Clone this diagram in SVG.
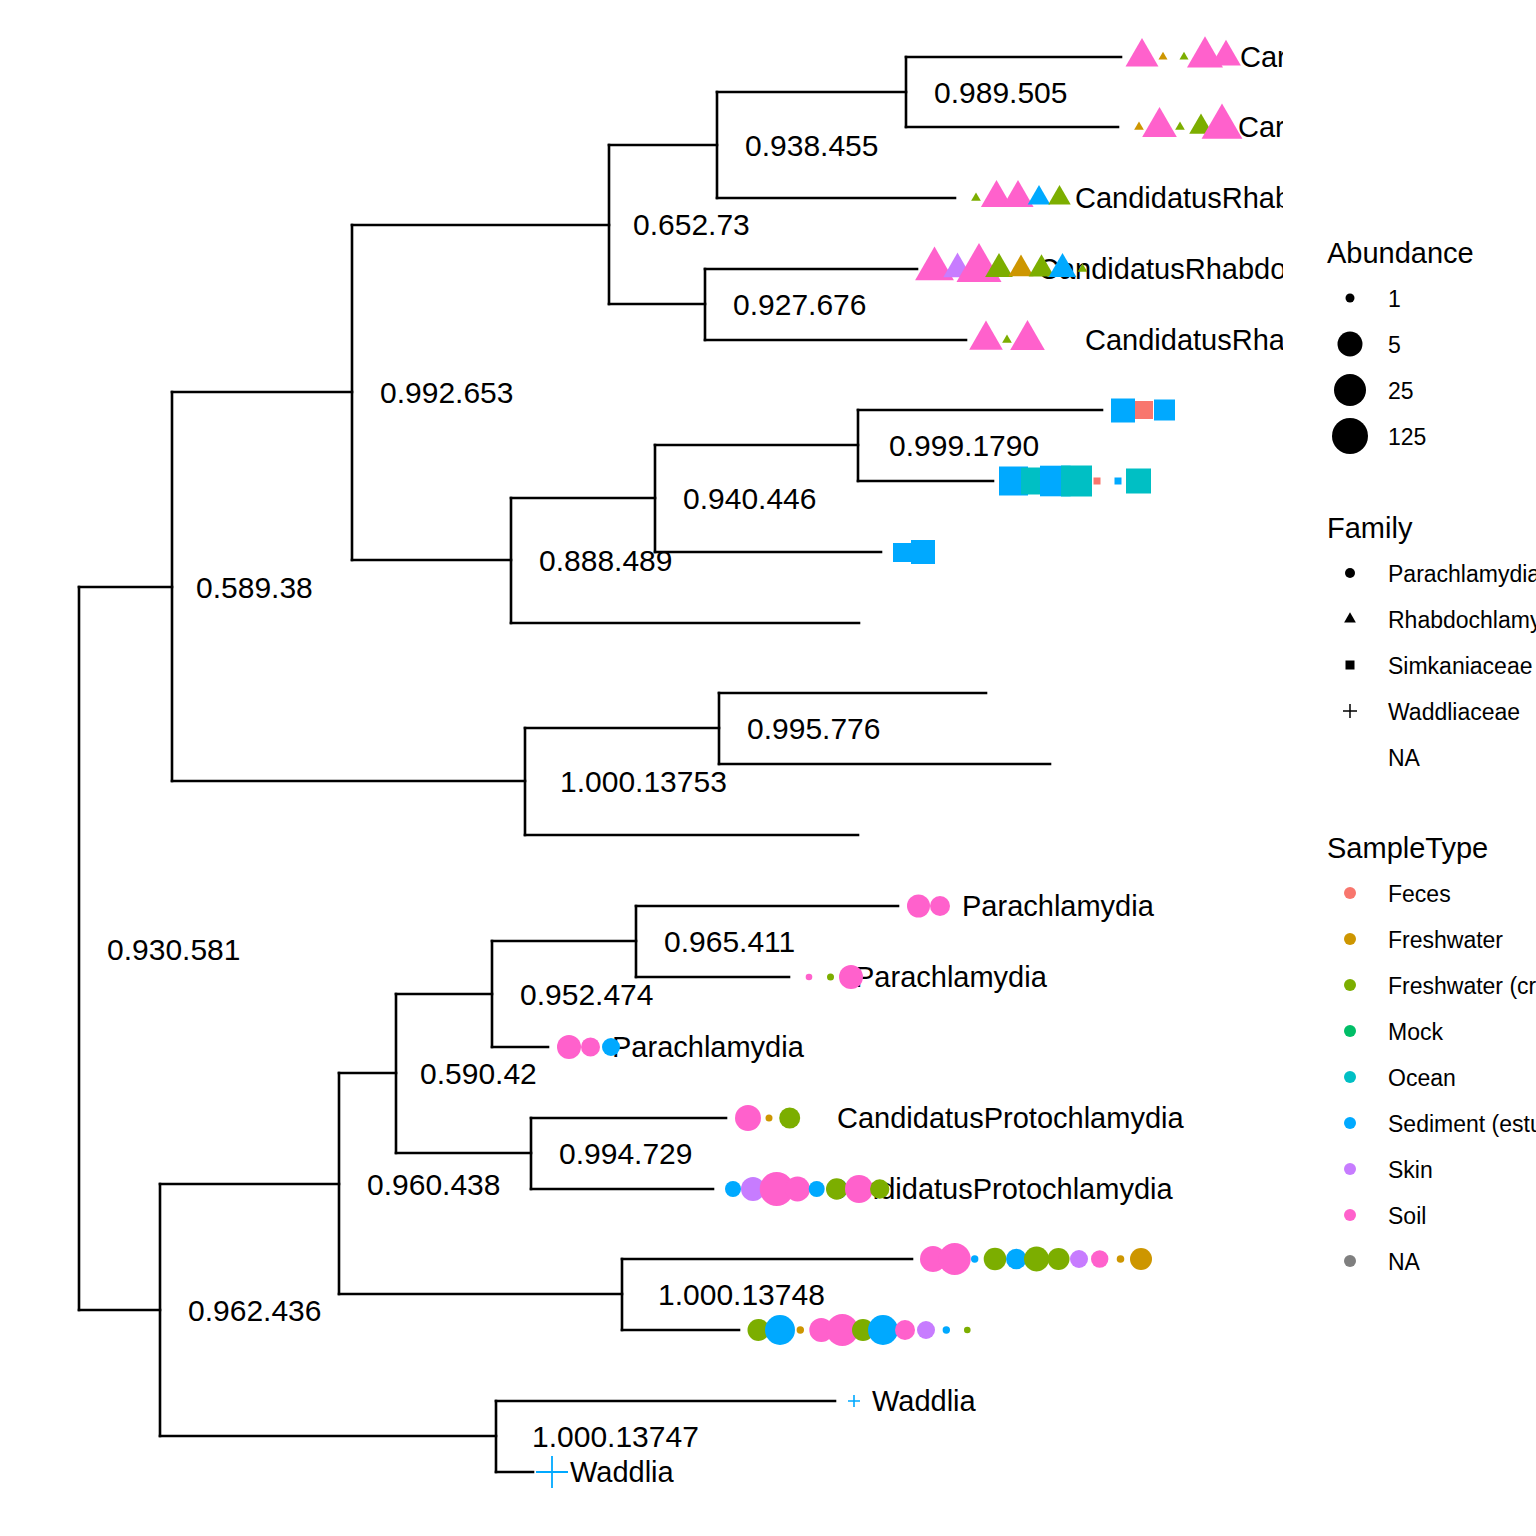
<svg xmlns="http://www.w3.org/2000/svg" xmlns:xlink="http://www.w3.org/1999/xlink" width="1536" height="1536" viewBox="0 0 1536 1536">
<style>
.e{fill:none;stroke:#000;stroke-width:2.6;stroke-linecap:square}
text{font-family:"Liberation Sans",Arial,Helvetica,sans-serif;fill:#000}
.nl{font-size:30px}
.tl{font-size:29px}
.lt{font-size:29px}
.ll{font-size:23px}
.pk{fill:#FF61CC}.or{fill:#CD9600}.gr{fill:#7CAE00}.bl{fill:#00A9FF}.te{fill:#00BFC4}.rd{fill:#F8766D}.pu{fill:#C77CFF}.mo{fill:#00BE67}.na{fill:#7F7F7F}
.pl{stroke:#00A9FF;fill:none}
</style>
<defs>
<path id="t" d="M0,-2 L1.732,1 L-1.732,1 Z"/>
<clipPath id="panel"><rect x="0" y="0" width="1283" height="1536"/></clipPath>
</defs>
<rect width="1536" height="1536" fill="#fff"/>
<g id="connectors">
<path class="e" d="M906,57V127M717,92V198M705,269V340M609,145V304M858,410V481M655,445V552M511,498V623M352,225V560M719,693V764M525,728V835M172,392V781M636,906V977M492,941V1047M531,1118V1189M396,994V1153M622,1259V1330M339,1073V1294M496,1401V1472M160,1184V1436M79,587V1310"/>
<path class="e" d="M717,92H906M609,145H717M609,304H705M352,225H609M655,445H858M511,498H655M352,560H511M172,392H352M525,728H719M172,781H525M79,587H172M492,941H636M396,994H492M396,1153H531M339,1073H396M339,1294H622M160,1184H339M160,1436H496M79,1310H160"/>
<path class="e" d="M906,57H1121M906,127H1118M717,198H955M705,269H917M705,340H966M858,410H1102M858,481H993M655,552H881M511,623H859M719,693H986M719,764H1050M525,835H858M636,906H898M636,977H789M492,1047H548M531,1118H726M531,1189H713M622,1259H912M622,1330H739M496,1401H835M496,1472H533"/>
</g>
<g id="internal-nodes">
<g id="n1"><text class="nl" x="934" y="103">0.989.505</text></g>
<g id="n2"><text class="nl" x="745" y="156">0.938.455</text></g>
<g id="n3"><text class="nl" x="633" y="235">0.652.73</text></g>
<g id="n4"><text class="nl" x="733" y="315">0.927.676</text></g>
<g id="n5"><text class="nl" x="380" y="403">0.992.653</text></g>
<g id="n6"><text class="nl" x="889" y="456">0.999.1790</text></g>
<g id="n7"><text class="nl" x="683" y="509">0.940.446</text></g>
<g id="n8"><text class="nl" x="539" y="571">0.888.489</text></g>
<g id="n9"><text class="nl" x="196" y="598">0.589.38</text></g>
<g id="n10"><text class="nl" x="747" y="739">0.995.776</text></g>
<g id="n11"><text class="nl" x="560" y="792">1.000.13753</text></g>
<g id="n12"><text class="nl" x="107" y="960">0.930.581</text></g>
<g id="n13"><text class="nl" x="664" y="952">0.965.411</text></g>
<g id="n14"><text class="nl" x="520" y="1005">0.952.474</text></g>
<g id="n15"><text class="nl" x="420" y="1084">0.590.42</text></g>
<g id="n16"><text class="nl" x="559" y="1164">0.994.729</text></g>
<g id="n17"><text class="nl" x="367" y="1195">0.960.438</text></g>
<g id="n18"><text class="nl" x="658" y="1305">1.000.13748</text></g>
<g id="n19"><text class="nl" x="188" y="1321">0.962.436</text></g>
<g id="n20"><text class="nl" x="532" y="1447">1.000.13747</text></g>
</g>
<g id="tips" clip-path="url(#panel)">
<g id="tip1">
<text class="tl" x="1240" y="67">Car</text>
<use xlink:href="#t" class="pk" transform="translate(1142,57) scale(9.5)"/>
<use xlink:href="#t" class="or" transform="translate(1163,57) scale(2.6)"/>
<use xlink:href="#t" class="gr" transform="translate(1184,57) scale(2.6)"/>
<use xlink:href="#t" class="pk" transform="translate(1205,57) scale(10.4)"/>
<use xlink:href="#t" class="pk" transform="translate(1226,57) scale(8.6)"/>
</g>
<g id="tip2">
<text class="tl" x="1238" y="137">Car</text>
<use xlink:href="#t" class="or" transform="translate(1139,127) scale(2.8)"/>
<use xlink:href="#t" class="pk" transform="translate(1159.5,127) scale(10)"/>
<use xlink:href="#t" class="gr" transform="translate(1180,127) scale(2.8)"/>
<use xlink:href="#t" class="gr" transform="translate(1201,127) scale(6.8)"/>
<use xlink:href="#t" class="pk" transform="translate(1222,127) scale(11.8)"/>
</g>
<g id="tip3">
<text class="tl" x="1075" y="208">CandidatusRhab</text>
<use xlink:href="#t" class="gr" transform="translate(976,198) scale(2.8)"/>
<use xlink:href="#t" class="pk" transform="translate(996.5,198) scale(9)"/>
<use xlink:href="#t" class="pk" transform="translate(1018,198) scale(9)"/>
<use xlink:href="#t" class="bl" transform="translate(1039,198) scale(6.5)"/>
<use xlink:href="#t" class="gr" transform="translate(1059.5,198) scale(6.5)"/>
</g>
<g id="tip4">
<text class="tl" x="1038" y="279">CandidatusRhabdo</text>
<use xlink:href="#t" class="pk" transform="translate(934.5,269) scale(11.2)"/>
<use xlink:href="#t" class="pu" transform="translate(957.5,269) scale(8.2)"/>
<use xlink:href="#t" class="pk" transform="translate(979,269) scale(13)"/>
<use xlink:href="#t" class="gr" transform="translate(999,269) scale(8)"/>
<use xlink:href="#t" class="or" transform="translate(1021,269) scale(7.2)"/>
<use xlink:href="#t" class="gr" transform="translate(1041.5,269) scale(7.4)"/>
<use xlink:href="#t" class="bl" transform="translate(1062.5,269) scale(8)"/>
<use xlink:href="#t" class="gr" transform="translate(1082.5,269) scale(2.8)"/>
</g>
<g id="tip5">
<text class="tl" x="1085" y="350">CandidatusRha</text>
<use xlink:href="#t" class="pk" transform="translate(986,340) scale(9.7)"/>
<use xlink:href="#t" class="gr" transform="translate(1007,340) scale(2.8)"/>
<use xlink:href="#t" class="pk" transform="translate(1027.5,340) scale(10)"/>
</g>
<g id="tip6">
<rect class="bl" x="1111" y="398.5" width="24" height="24"/>
<rect class="rd" x="1135" y="401" width="18" height="18"/>
<rect class="bl" x="1154" y="399.5" width="21" height="21"/>
</g>
<g id="tip7">
<rect class="bl" x="999" y="466.5" width="29" height="29"/>
<rect class="te" x="1021" y="467.5" width="27" height="27"/>
<rect class="bl" x="1040" y="465.7" width="30.6" height="30.6"/>
<rect class="te" x="1061" y="465.5" width="31" height="31"/>
<rect class="rd" x="1093.5" y="477.5" width="7" height="7"/>
<rect class="bl" x="1114.5" y="477.5" width="7" height="7"/>
<rect class="te" x="1126" y="468.5" width="25" height="25"/>
</g>
<g id="tip8">
<rect class="bl" x="893" y="543" width="19" height="19"/>
<rect class="bl" x="911" y="540" width="24" height="24"/>
</g>
<g id="tip13">
<text class="tl" x="962" y="916">Parachlamydia</text>
<circle class="pk" cx="918.5" cy="906" r="11.5"/>
<circle class="pk" cx="940" cy="906" r="10"/>
</g>
<g id="tip14">
<text class="tl" x="855" y="987">Parachlamydia</text>
<circle class="pk" cx="809" cy="977" r="3.3"/>
<circle class="gr" cx="830.5" cy="977" r="3.5"/>
<circle class="pk" cx="851" cy="977" r="12"/>
</g>
<g id="tip15">
<text class="tl" x="612" y="1057">Parachlamydia</text>
<circle class="pk" cx="569" cy="1047" r="12"/>
<circle class="pk" cx="590.5" cy="1047" r="9.5"/>
<circle class="bl" cx="611" cy="1047" r="9"/>
</g>
<g id="tip16">
<text class="tl" x="837" y="1128">CandidatusProtochlamydia</text>
<circle class="pk" cx="748" cy="1118" r="13"/>
<circle class="or" cx="769" cy="1118" r="3.5"/>
<circle class="gr" cx="789.7" cy="1118" r="10.5"/>
</g>
<g id="tip17">
<text class="tl" x="826" y="1199">CandidatusProtochlamydia</text>
<circle class="bl" cx="733" cy="1189" r="8"/>
<circle class="pu" cx="753" cy="1189" r="12"/>
<circle class="pk" cx="776.7" cy="1189" r="17"/>
<circle class="pk" cx="797.5" cy="1189" r="12.5"/>
<circle class="bl" cx="816.7" cy="1189" r="8"/>
<circle class="gr" cx="836.7" cy="1189" r="10.7"/>
<circle class="pk" cx="859" cy="1189" r="14"/>
<circle class="gr" cx="879.7" cy="1189" r="9.7"/>
</g>
<g id="tip18">
<circle class="pk" cx="933" cy="1259" r="13"/>
<circle class="pk" cx="954.7" cy="1259" r="16"/>
<circle class="bl" cx="974.7" cy="1259" r="3.7"/>
<circle class="gr" cx="995" cy="1259" r="11.3"/>
<circle class="bl" cx="1016.3" cy="1259" r="10.3"/>
<circle class="gr" cx="1036.5" cy="1259" r="12.5"/>
<circle class="gr" cx="1058.5" cy="1259" r="11"/>
<circle class="pu" cx="1079" cy="1259" r="9"/>
<circle class="pk" cx="1099.7" cy="1259" r="8.7"/>
<circle class="or" cx="1120.5" cy="1259" r="3.8"/>
<circle class="or" cx="1141" cy="1259" r="11"/>
</g>
<g id="tip19">
<circle class="gr" cx="758.5" cy="1330" r="11"/>
<circle class="bl" cx="780" cy="1330" r="15"/>
<circle class="or" cx="800.3" cy="1330" r="3.7"/>
<circle class="pk" cx="821.3" cy="1330" r="12"/>
<circle class="pk" cx="842.3" cy="1330" r="16"/>
<circle class="gr" cx="863" cy="1330" r="11"/>
<circle class="bl" cx="883" cy="1330" r="15"/>
<circle class="pk" cx="905" cy="1330" r="10"/>
<circle class="pu" cx="926" cy="1330" r="9"/>
<circle class="bl" cx="946.3" cy="1330" r="3.7"/>
<circle class="gr" cx="967.3" cy="1330" r="3.3"/>
</g>
<g id="tip20">
<text class="tl" x="872" y="1411">Waddlia</text>
<path class="pl" stroke-width="1.6" d="M848,1401H860M854,1395V1407"/>
</g>
<g id="tip21">
<text class="tl" x="570" y="1482">Waddlia</text>
<path class="pl" stroke-width="1.8" d="M536,1472H568M552,1456V1488"/>
</g>
</g>
<g id="legend-abundance">
<text class="lt" x="1327" y="263">Abundance</text>
<circle cx="1350" cy="298" r="4.5"/>
<circle cx="1350" cy="344" r="12.5"/>
<circle cx="1350" cy="390" r="16"/>
<circle cx="1350" cy="436" r="18"/>
<text class="ll" x="1388" y="306.5">1</text>
<text class="ll" x="1388" y="352.5">5</text>
<text class="ll" x="1388" y="398.5">25</text>
<text class="ll" x="1388" y="444.5">125</text>
</g>
<g id="legend-family">
<text class="lt" x="1327" y="538">Family</text>
<circle cx="1350" cy="573" r="5"/>
<use xlink:href="#t" transform="translate(1350,619) scale(3.4)"/>
<rect x="1345.5" y="660.5" width="9" height="9"/>
<path d="M1343,711H1357M1350,704V718" stroke="#000" stroke-width="1.5" fill="none"/>
<text class="ll" x="1388" y="581.5">Parachlamydia</text>
<text class="ll" x="1388" y="627.5">Rhabdochlamy</text>
<text class="ll" x="1388" y="673.5">Simkaniaceae</text>
<text class="ll" x="1388" y="719.5">Waddliaceae</text>
<text class="ll" x="1388" y="765.5">NA</text>
</g>
<g id="legend-sampletype">
<text class="lt" x="1327" y="858">SampleType</text>
<circle class="rd" cx="1350" cy="893" r="6"/>
<circle class="or" cx="1350" cy="939" r="6"/>
<circle class="gr" cx="1350" cy="985" r="6"/>
<circle class="mo" cx="1350" cy="1031" r="6"/>
<circle class="te" cx="1350" cy="1077" r="6"/>
<circle class="bl" cx="1350" cy="1123" r="6"/>
<circle class="pu" cx="1350" cy="1169" r="6"/>
<circle class="pk" cx="1350" cy="1215" r="6"/>
<circle class="na" cx="1350" cy="1261" r="6"/>
<text class="ll" x="1388" y="901.5">Feces</text>
<text class="ll" x="1388" y="947.5">Freshwater</text>
<text class="ll" x="1388" y="993.5">Freshwater (cr</text>
<text class="ll" x="1388" y="1039.5">Mock</text>
<text class="ll" x="1388" y="1085.5">Ocean</text>
<text class="ll" x="1388" y="1131.5">Sediment (estu</text>
<text class="ll" x="1388" y="1177.5">Skin</text>
<text class="ll" x="1388" y="1223.5">Soil</text>
<text class="ll" x="1388" y="1269.5">NA</text>
</g>
</svg>
